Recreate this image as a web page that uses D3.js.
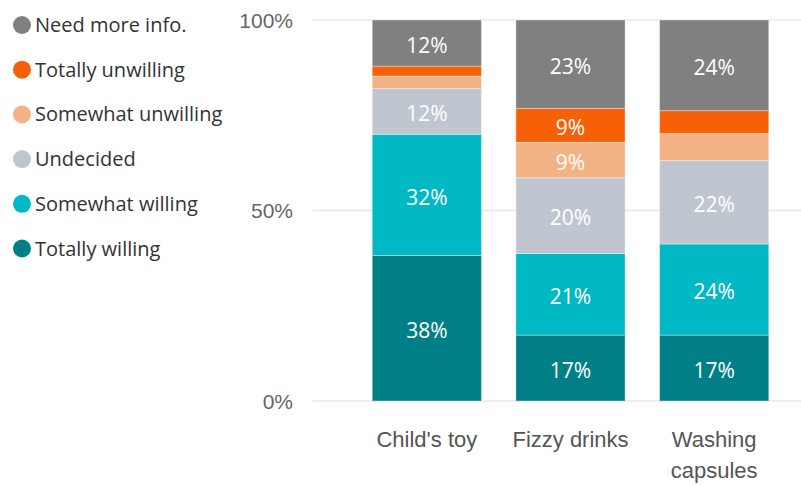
<!DOCTYPE html>
<html>
<head>
<meta charset="utf-8">
<script src="https://cdn.jsdelivr.net/npm/d3@7"></script>
<style>
  html, body { margin: 0; padding: 0; background: #fff; }
  svg { display: block; font-family: "Open Sans", "Noto Sans", sans-serif; }
</style>
</head>
<body>
<svg id="chart" width="801" height="486"></svg>
<script>
// Survey answers per product, as shares of respondents (%)
const categories = ["Child's toy", "Fizzy drinks", "Washing capsules"];
const seriesNames = ["Totally willing", "Somewhat willing", "Undecided",
                     "Somewhat unwilling", "Totally unwilling", "Need more info."];
const totallyWilling    = [38.2, 17.3, 17.3];
const somewhatWilling   = [31.8, 21.4, 23.9];
const undecided         = [12.0, 19.9, 21.9];
const somewhatUnwilling = [3.3, 9.3, 7.1];
const totallyUnwilling  = [2.6, 8.9, 6.0];
const needMoreInfo      = [12.1, 23.2, 23.8];
const yTicks = [0, 50, 100];
const legendOrder = ["Need more info.", "Totally unwilling", "Somewhat unwilling",
                     "Undecided", "Somewhat willing", "Totally willing"];

const seriesValues = [totallyWilling, somewhatWilling, undecided,
                      somewhatUnwilling, totallyUnwilling, needMoreInfo];
const colors = {
  "Totally willing": "#017f87",
  "Somewhat willing": "#01b8c5",
  "Undecided": "#c0c6d0",
  "Somewhat unwilling": "#f2b283",
  "Totally unwilling": "#f56008",
  "Need more info.": "#808080"
};

const rows = categories.map((c, i) => {
  const r = { category: c };
  seriesNames.forEach((s, k) => { r[s] = seriesValues[k][i]; });
  return r;
});
const stacked = d3.stack().keys(seriesNames)(rows);

const svg = d3.select("#chart");

const x = d3.scaleBand().domain(categories).range([355, 786])
  .paddingInner(0.24).paddingOuter(0.12);
const y = d3.scaleLinear().domain([0, 100]).range([401, 20]);

// gridlines
svg.append("g").selectAll("line").data(yTicks).join("line")
  .attr("x1", 313).attr("x2", 801)
  .attr("y1", d => y(d)).attr("y2", d => y(d))
  .attr("stroke", "#e8e8e8").attr("stroke-width", 1.5);

// y axis labels
const yAxis = d3.axisLeft(y).tickValues(yTicks).tickFormat(d => d + "%").tickSize(0).tickPadding(0);
const yg = svg.append("g").attr("transform", "translate(293,0)").call(yAxis);
yg.select(".domain").remove();
yg.selectAll("text").attr("font-size", 21).attr("fill", "#666").attr("font-family", "inherit")
  .attr("dy", "0.35em");

// stacked bars
const layers = svg.append("g").selectAll("g").data(stacked).join("g")
  .attr("fill", d => colors[d.key]);
layers.selectAll("rect").data(d => d).join("rect")
  .attr("x", d => x(d.data.category))
  .attr("width", x.bandwidth())
  .attr("y", d => y(d[1]))
  .attr("height", d => y(d[0]) - y(d[1]))
  .attr("stroke", "#ffffff").attr("stroke-opacity", 0.35).attr("stroke-width", 1);

// value labels
layers.selectAll("text").data(d => d.filter(p => p[1] - p[0] >= 8)).join("text")
  .attr("x", d => x(d.data.category) + x.bandwidth() / 2)
  .attr("y", d => (y(d[0]) + y(d[1])) / 2 + 4)
  .attr("text-anchor", "middle")
  .attr("dominant-baseline", "middle")
  .attr("font-size", 21)
  .attr("fill", "#ffffff")
  .text(d => Math.round(d[1] - d[0]) + "%");

// category axis
const xAxis = d3.axisBottom(x).tickSize(0).tickPadding(0);
const xg = svg.append("g").attr("transform", "translate(0,430)").call(xAxis);
xg.select(".domain").remove();
xg.selectAll("text").remove();
xg.selectAll(".tick").each(function(d) {
  const words = d === "Washing capsules" ? ["Washing", "capsules"] : [d];
  const t = d3.select(this).append("text")
    .attr("text-anchor", "middle").attr("font-size", 22).attr("fill", "#555")
    .attr("font-family", "inherit");
  words.forEach((w, i) => {
    t.append("tspan").attr("x", 0).attr("y", 9 + i * 31).attr("dy", "0.35em").text(w);
  });
});

// legend
const legend = svg.append("g").selectAll("g").data(legendOrder).join("g")
  .attr("transform", (d, i) => `translate(22,${25 + i * 44.7})`);
legend.append("circle").attr("r", 9).attr("fill", d => colors[d]);
legend.append("text").attr("x", 13).attr("dy", "0.35em")
  .attr("font-size", 20).attr("fill", "#333").text(d => d);
</script>
</body>
</html>
